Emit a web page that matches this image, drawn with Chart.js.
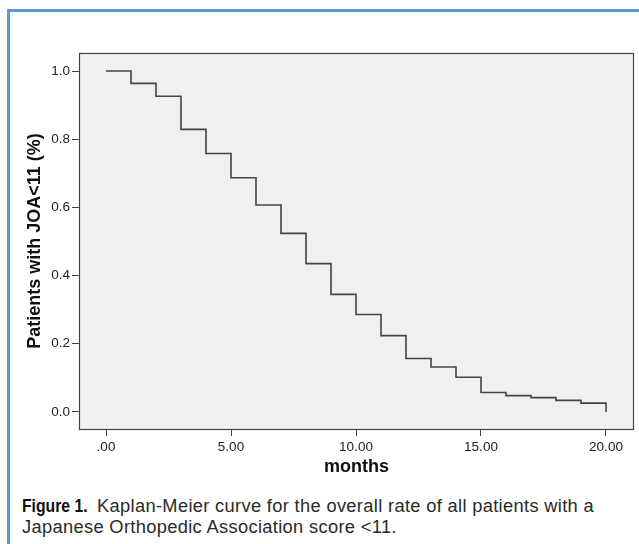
<!DOCTYPE html>
<html lang="en">
<head>
    <meta charset="UTF-8">
    <title>Kaplan-Meier curve</title>
    <style>
        body {
            margin: 0;
            background: #ffffff;
            width: 639px;
            height: 544px;
            overflow: hidden;
            position: relative;
        }
        #frame {
            position: absolute;
            left: 7px;
            top: 9px;
            width: 700px;
            height: 600px;
            border-left: 3px solid #5d97d6;
            border-top: 3px solid #5d97d6;
        }
        #chart {
            position: absolute;
            left: 0;
            top: 0;
        }
        #caption {
            position: absolute;
            left: 22px;
            top: 495px;
            font-family: "Liberation Sans", Arial, sans-serif;
            font-size: 18.3px;
            letter-spacing: 0.33px;
            line-height: 21px;
            color: #2a2a2a;
            white-space: nowrap;
        }
        #caption b {
            display: inline-block;
            transform: scaleX(0.86);
            transform-origin: left center;
            margin-right: -12px;
            letter-spacing: 0;
            color: #111;
        }
    </style>
</head>
<body>
    <div id="frame"></div>
    <canvas id="chart" width="639" height="490"></canvas>
    <div id="caption"><b>Figure 1.</b>&nbsp; Kaplan-Meier curve for the overall rate of all patients with a<br>Japanese Orthopedic Association score &lt;11.</div>

    <script src="https://cdn.jsdelivr.net/npm/chart.js"></script>
    <script>
        // values
        var months = [0, 1, 2, 3, 4, 5, 6, 7, 8, 9, 10, 11, 12, 13, 14, 15, 16, 17, 18, 19, 20];
        var survival = [1.0, 0.964, 0.926, 0.829, 0.758, 0.687, 0.607, 0.524, 0.435, 0.345, 0.286,
                        0.224, 0.157, 0.132, 0.102, 0.057, 0.048, 0.042, 0.034, 0.026, 0.0];
        var xTicks = [0, 5, 10, 15, 20];
        var xTickLabels = ['.00', '5.00', '10.00', '15.00', '20.00'];
        var yTicks = [0, 0.2, 0.4, 0.6, 0.8, 1.0];
        var yTickLabels = ['0.0', '0.2', '0.4', '0.6', '0.8', '1.0'];

        var plotFrame = {
            id: 'plotFrame',
            beforeDatasetsDraw: function(chart) {
                var a = chart.chartArea, ctx = chart.ctx;
                ctx.save();
                ctx.fillStyle = '#f0f0f0';
                ctx.fillRect(a.left, a.top, a.right - a.left, a.bottom - a.top);
                ctx.restore();
            },
            afterDraw: function(chart) {
                var a = chart.chartArea, ctx = chart.ctx;
                ctx.save();
                ctx.strokeStyle = '#444';
                ctx.lineWidth = 1.2;
                ctx.strokeRect(a.left + 0.5, a.top + 0.5, a.right - a.left - 1, a.bottom - a.top);
                ctx.restore();
            }
        };

        var tickFont = { family: 'Arial, "Liberation Sans", sans-serif', size: 13.5 };
        var titleFont = { family: 'Arial, "Liberation Sans", sans-serif', size: 18, weight: 'bold' };

        new Chart(document.getElementById('chart'), {
            type: 'line',
            data: {
                datasets: [{
                    data: months.map(function(m, i) { return { x: m, y: survival[i] }; }),
                    stepped: true,
                    borderColor: '#444',
                    borderWidth: 1.6,
                    pointRadius: 0,
                    fill: false
                }]
            },
            options: {
                responsive: false,
                animation: false,
                devicePixelRatio: 1,
                layout: { padding: { left: 0, top: 53, right: 5, bottom: 0 } },
                plugins: {
                    legend: { display: false },
                    tooltip: { enabled: false }
                },
                scales: {
                    x: {
                        type: 'linear',
                        min: -1.08,
                        max: 21.12,
                        afterBuildTicks: function(axis) {
                            axis.ticks = xTicks.map(function(v) { return { value: v }; });
                        },
                        afterFit: function(axis) { axis.height = 61; },
                        ticks: {
                            autoSkip: false,
                            maxRotation: 0,
                            padding: 3,
                            color: '#222',
                            font: tickFont,
                            callback: function(v) { return xTickLabels[xTicks.indexOf(v)]; }
                        },
                        grid: { drawOnChartArea: false, drawTicks: true, tickLength: 7, color: '#444' },
                        border: { display: false },
                        title: {
                            display: true,
                            text: 'months',
                            color: '#111',
                            font: titleFont,
                            padding: { top: 0, bottom: 12 }
                        }
                    },
                    y: {
                        min: -0.05,
                        max: 1.053,
                        afterBuildTicks: function(axis) {
                            axis.ticks = yTicks.map(function(v) { return { value: v }; });
                        },
                        afterFit: function(axis) { axis.width = 79; },
                        ticks: {
                            autoSkip: false,
                            padding: 2,
                            color: '#222',
                            font: tickFont,
                            callback: function(v) {
                                var i = yTicks.findIndex(function(t) { return Math.abs(t - v) < 1e-9; });
                                return yTickLabels[i];
                            }
                        },
                        grid: { drawOnChartArea: false, drawTicks: true, tickLength: 7, color: '#444' },
                        border: { display: false },
                        title: {
                            display: true,
                            text: 'Patients with JOA<11 (%)',
                            color: '#111',
                            font: titleFont,
                            padding: { top: 24, bottom: 0 }
                        }
                    }
                }
            },
            plugins: [plotFrame]
        });
    </script>
</body>
</html>
